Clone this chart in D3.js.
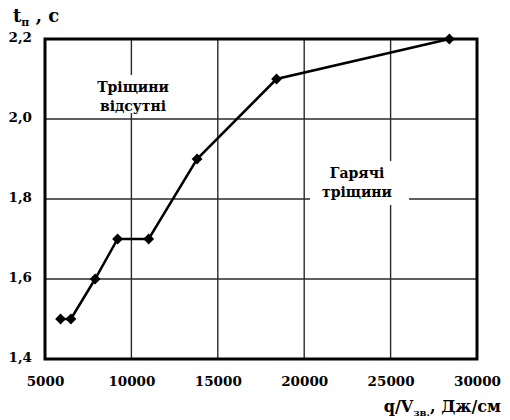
<!DOCTYPE html>
<meta charset="utf-8">
<style>
body { margin: 0; background: #fff; }
</style>
<body>
<svg width="510" height="420"></svg>
<script src="https://d3js.org/d3.v7.min.js"></script>
<script>

var qv = [5900, 6500, 7900, 9200, 11000, 13800, 18400, 28400];
var tp = [1.5, 1.5, 1.6, 1.7, 1.7, 1.9, 2.1, 2.2];
var xTicks = [5000, 10000, 15000, 20000, 25000, 30000];
var yTicks = [1.4, 1.6, 1.8, 2.0, 2.2];

var FONT = "DejaVu Serif";

var svg = d3.select("svg"),
    margin = {top: 39, right: 33, bottom: 61, left: 45},
    width = 510 - margin.left - margin.right,
    height = 420 - margin.top - margin.bottom,
    g = svg.append("g").attr("transform", "translate(" + margin.left + "," + margin.top + ")");

var x = d3.scaleLinear().domain([5000, 30000]).range([0, width]);
var y = d3.scaleLinear().domain([1.4, 2.2]).range([height, 0]);

var fmt = function(d) { return d3.format(".1f")(d).replace(".", ","); };

// grid
var grid = g.append("g").attr("stroke", "#2a2a2a").attr("stroke-width", 1.4);
grid.selectAll("line.v").data(xTicks.slice(1, -1)).enter().append("line")
    .attr("x1", x).attr("x2", x).attr("y1", 0).attr("y2", height);
grid.selectAll("line.h").data(yTicks.slice(1, -1)).enter().append("line")
    .attr("y1", y).attr("y2", y).attr("x1", 0).attr("x2", width);

// region labels, white box hides the grid behind them
function note(cx, base, lines, box) {
  var n = g.append("g");
  n.append("rect").attr("x", box[0]).attr("y", box[1])
    .attr("width", box[2]).attr("height", box[3]).attr("fill", "#fff");
  n.selectAll("text").data(lines).enter().append("text")
    .attr("x", cx).attr("y", function(d, i) { return base + i * 19; })
    .attr("text-anchor", "middle")
    .attr("font-family", FONT).attr("font-weight", "bold").attr("font-size", 14)
    .text(function(d) { return d; });
}
note(88, 53, ["Тріщини", "відсутні"], [51, 36, 74, 38]);
note(312, 139, ["Гарячі", "тріщини"], [265, 122, 99, 44]);

// axes
var xAxis = g.append("g").attr("transform", "translate(0," + height + ")")
  .call(d3.axisBottom(x).tickValues(xTicks).tickSize(0).tickPadding(17).tickFormat(d3.format("d")));
var yAxis = g.append("g")
  .call(d3.axisLeft(y).tickValues(yTicks).tickSize(0).tickPadding(13).tickFormat(fmt));
xAxis.select(".domain").remove();
yAxis.select(".domain").remove();
[xAxis, yAxis].forEach(function(a) {
  a.attr("font-family", FONT).attr("font-size", 13.5).attr("font-weight", "bold");
});
g.selectAll(".tick text").attr("fill", "#000");
yAxis.selectAll(".tick text").attr("dy", "0.2em");

g.append("rect").attr("width", width).attr("height", height)
  .attr("fill", "none").attr("stroke", "#000").attr("stroke-width", 3);

// data line
var line = d3.line().x(function(d, i) { return x(qv[i]); }).y(function(d) { return y(d); });
g.append("path").datum(tp).attr("d", line)
  .attr("fill", "none").attr("stroke", "#000").attr("stroke-width", 2.5);

g.selectAll(".pt").data(tp).enter().append("path")
  .attr("transform", function(d, i) { return "translate(" + x(qv[i]) + "," + y(d) + ")"; })
  .attr("d", d3.symbol().type(d3.symbolDiamond2).size(75))
  .attr("fill", "#000");

// axis titles
var ty = svg.append("text").attr("x", 13).attr("y", 22)
  .attr("font-family", FONT).attr("font-weight", "bold").attr("font-size", 18);
ty.append("tspan").text("t");
ty.append("tspan").attr("dy", 4).attr("font-size", 11).text("п");
ty.append("tspan").attr("dy", -4).attr("font-size", 18).text(" , с");

var tx = svg.append("text").attr("x", 501).attr("y", 412).attr("text-anchor", "end")
  .attr("font-family", FONT).attr("font-weight", "bold").attr("font-size", 16);
tx.append("tspan").text("q/V");
tx.append("tspan").attr("dy", 4).attr("font-size", 10).text("зв.");
tx.append("tspan").attr("dy", -4).text(", Дж/см");

</script>
</body>
